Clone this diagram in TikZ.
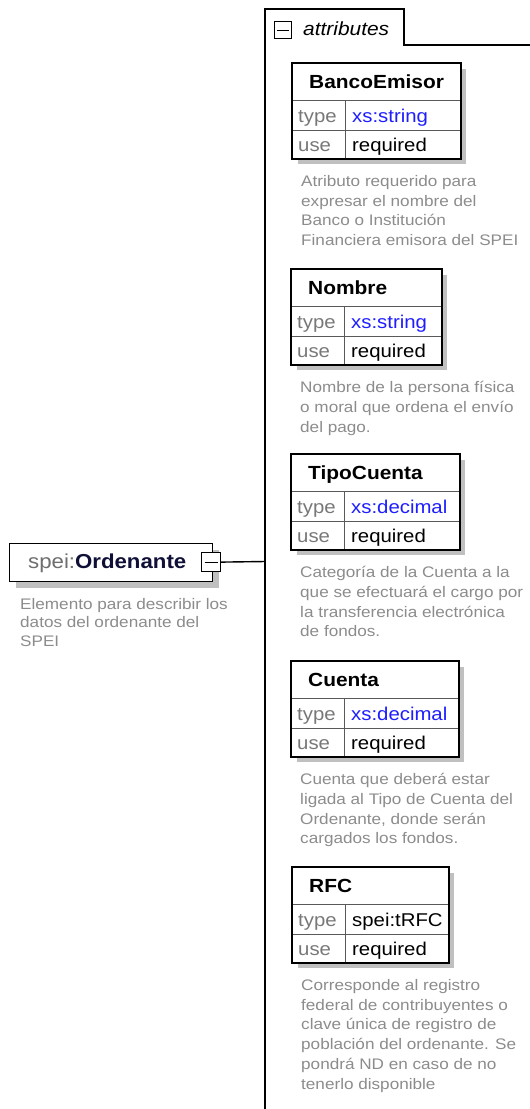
\documentclass[tikz,border=0pt]{standalone}
\usepackage{fontspec}
\setmainfont{Liberation Sans}
\newfontfamily\tahfont[FakeStretch=1.1]{Liberation Sans}
\newfontfamily\descfont[FakeStretch=1.12]{Liberation Sans}
\definecolor{descgray}{RGB}{140,140,140}
\definecolor{labelgray}{RGB}{120,120,120}
\definecolor{shadowgray}{RGB}{192,192,192}
\definecolor{valblue}{RGB}{30,30,255}
\definecolor{speigray}{RGB}{110,110,110}
\definecolor{navyink}{RGB}{15,15,55}
\tikzset{
  frame/.style={draw=black, line width=1.4pt},
  sepline/.style={draw=black!65, line width=0.8pt},
  hdr/.style={font=\tahfont\fontsize{19}{22}\selectfont\bfseries, anchor=base west, inner sep=0},
  lbl/.style={font=\tahfont\fontsize{18.5}{22}\selectfont, text=labelgray, anchor=base west, inner sep=0},
  val/.style={font=\tahfont\fontsize{18.5}{22}\selectfont, anchor=base west, inner sep=0},
  desc/.style={font=\descfont\fontsize{15.3}{19.8}\selectfont, text=descgray, align=left, anchor=north west, inner sep=0},
  toggle/.style={draw=black, line width=1.2pt, fill=white, minimum size=#1, inner sep=0, anchor=north west},
  wire/.style={draw=black, line width=1.4pt},
}
% id, x0, y0, x1, name, type text, type colour, description
\newcommand\attrbox[8]{%
  \fill[shadowgray] (#2+6,#3+6) rectangle (#4+6,#3+101);
  \node[frame, fill=white, anchor=north west, inner sep=0,
        minimum width=#4-#2, minimum height=95] (#1) at (#2,#3) {};
  \draw[sepline] (#2,#3+37) -- (#4,#3+37);
  \draw[sepline] (#2,#3+67) -- (#4,#3+67);
  \draw[sepline] (#2+53,#3+37) -- (#2+53,#3+95);
  \draw[frame] (#1.north west) rectangle (#1.south east);
  \node[hdr] (#1-name) at (#2+17,#3+25) {#5};
  \node[lbl] (#1-tl) at (#2+6,#3+59) {type};
  \node[val, text=#7] (#1-tv) at (#2+60,#3+59) {#6};
  \node[lbl] (#1-ul) at (#2+6,#3+88) {use};
  \node[val] (#1-uv) at (#2+60,#3+88) {required};
  \node[desc] (#1-desc) at (#2+9,#3+112) {#8};
}
\begin{document}
\begin{tikzpicture}[x=1pt,y=-1pt]
\useasboundingbox (0,0) rectangle (530,1109);
\fill[white] (0,0) rectangle (530,1109);

% attributes container
\coordinate (tabtl) at (265,9);
\coordinate (tabtr) at (404,9);
\coordinate (tabbr) at (404,45);
\coordinate (contright) at (530,45);
\coordinate (contbottom) at (265,1109);
\draw[wire] (contbottom) -- (tabtl) -- (tabtr) -- (tabbr) -- (contright);
\node[toggle=17pt] (attrtog) at (274,21) {};
\draw[line width=1.2pt] ([xshift=3pt]attrtog.west) -- ([xshift=-3pt]attrtog.east);
\node[font=\tahfont\fontsize{19}{22}\selectfont\itshape, anchor=base west, inner sep=0] (attrlbl) at (303,35) {attributes};

% element
\fill[shadowgray] (16,550) rectangle (219,588);
\node[frame, fill=white, anchor=north west, inner sep=0, minimum width=203, minimum height=38] (elem) at (9,543) {};
\node[font=\tahfont\fontsize{20.2}{22}\selectfont, anchor=base west, inner sep=0] (elemtxt) at (28,568)
  {\textcolor{speigray}{spei:}\textcolor{navyink}{\bfseries Ordenante}};
\node[toggle=19pt] (elemtog) at (201,552) {};
\draw[line width=1.2pt] ([xshift=3.5pt]elemtog.west) -- ([xshift=-3.5pt]elemtog.east);
\coordinate (contjoin) at (265,561.5);
\draw[wire] (elemtog.east) -- (contjoin);
\node[desc, font=\descfont\fontsize{15.3}{18.5}\selectfont] (elemdesc) at (20,598) {Elemento para describir los\\datos del ordenante del\\SPEI};

% attribute boxes
\attrbox{banco}{292}{63}{460}{BancoEmisor}{xs:string}{valblue}{Atributo requerido para\\expresar el nombre del\\Banco o Institución\\Financiera emisora del SPEI}
\attrbox{nombre}{291}{269}{441}{Nombre}{xs:string}{valblue}{Nombre de la persona física\\o moral que ordena el envío\\del pago.}
\attrbox{tipo}{291}{454}{459}{TipoCuenta}{xs:decimal}{valblue}{Categoría de la Cuenta a la\\que se efectuará el cargo por\\la transferencia electrónica\\de fondos.}
\attrbox{cuenta}{291}{661}{458}{Cuenta}{xs:decimal}{valblue}{Cuenta que deberá estar\\ligada al Tipo de Cuenta del\\Ordenante, donde serán\\cargados los fondos.}
\attrbox{rfc}{292}{867}{448}{RFC}{spei:tRFC}{black}{Corresponde al registro\\federal de contribuyentes o\\clave única de registro de\\población del ordenante. Se\\pondrá ND en caso de no\\tenerlo disponible}
\end{tikzpicture}
\end{document}
